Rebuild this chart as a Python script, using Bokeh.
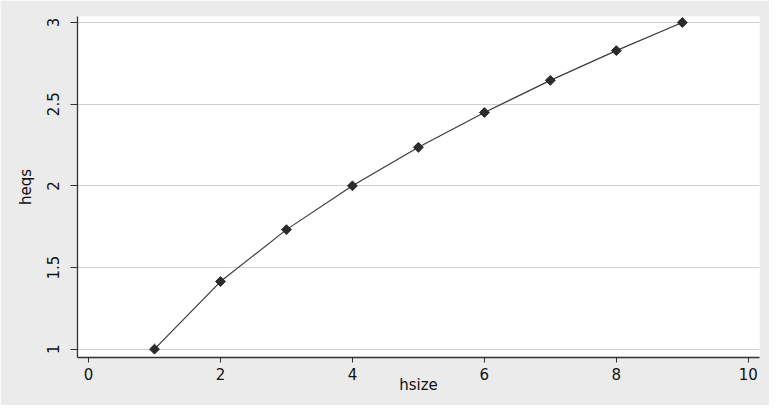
import numpy as np
from bokeh.plotting import figure
from bokeh.models import Range1d, FixedTicker
from bokeh.embed import file_html
from bokeh.resources import INLINE

hsize = [1, 2, 3, 4, 5, 6, 7, 8, 9]
heqs = [1.0, 1.414, 1.732, 2.0, 2.236, 2.449, 2.646, 2.828, 3.0]
x_ticks = [0, 2, 4, 6, 8, 10]
y_ticks = [1, 1.5, 2, 2.5, 3]

p = figure(width=769, height=405, output_backend="svg", toolbar_location=None,
           x_range=Range1d(-0.167, 10.17), y_range=Range1d(0.949, 3.037),
           min_border_left=77, min_border_right=10, min_border_top=16, min_border_bottom=48)
p.border_fill_color = "#EBEBEB"
p.background_fill_color = "white"
p.outline_line_color = None

p.line(hsize, heqs, line_color="#3a3a3a", line_width=1.2)
p.scatter(hsize, heqs, marker="square", angle=np.pi / 4, size=7,
          fill_color="#2b2b2b", line_color="#2b2b2b")

p.xgrid.grid_line_color = None
p.ygrid.grid_line_color = "#CFCFCF"
p.ygrid.grid_line_width = 1.2
p.xaxis.ticker = FixedTicker(ticks=x_ticks)
p.yaxis.ticker = FixedTicker(ticks=y_ticks)

for ax in (p.xaxis[0], p.yaxis[0]):
    ax.axis_line_color = "#333333"
    ax.axis_line_width = 1.3
    ax.major_tick_line_color = "#333333"
    ax.minor_tick_line_color = None
    ax.major_tick_in = 0
    ax.major_label_text_font = "DejaVu Sans"
    ax.major_label_text_font_size = "15px"
    ax.major_label_text_color = "#111111"
    ax.axis_label_text_font = "DejaVu Sans"
    ax.axis_label_text_font_size = "15px"
    ax.axis_label_text_font_style = "normal"
    ax.axis_label_text_color = "#111111"

p.xaxis.axis_label = "hsize"
p.yaxis.axis_label = "heqs"
p.xaxis.major_tick_out = 5
p.yaxis.major_tick_out = 7
p.yaxis.major_label_orientation = "vertical"
p.xaxis.major_label_standoff = 5
p.yaxis.major_label_standoff = 11
p.xaxis.axis_label_standoff = -7
p.yaxis.axis_label_standoff = 10

open("out.html", "w").write(file_html(p, INLINE))
